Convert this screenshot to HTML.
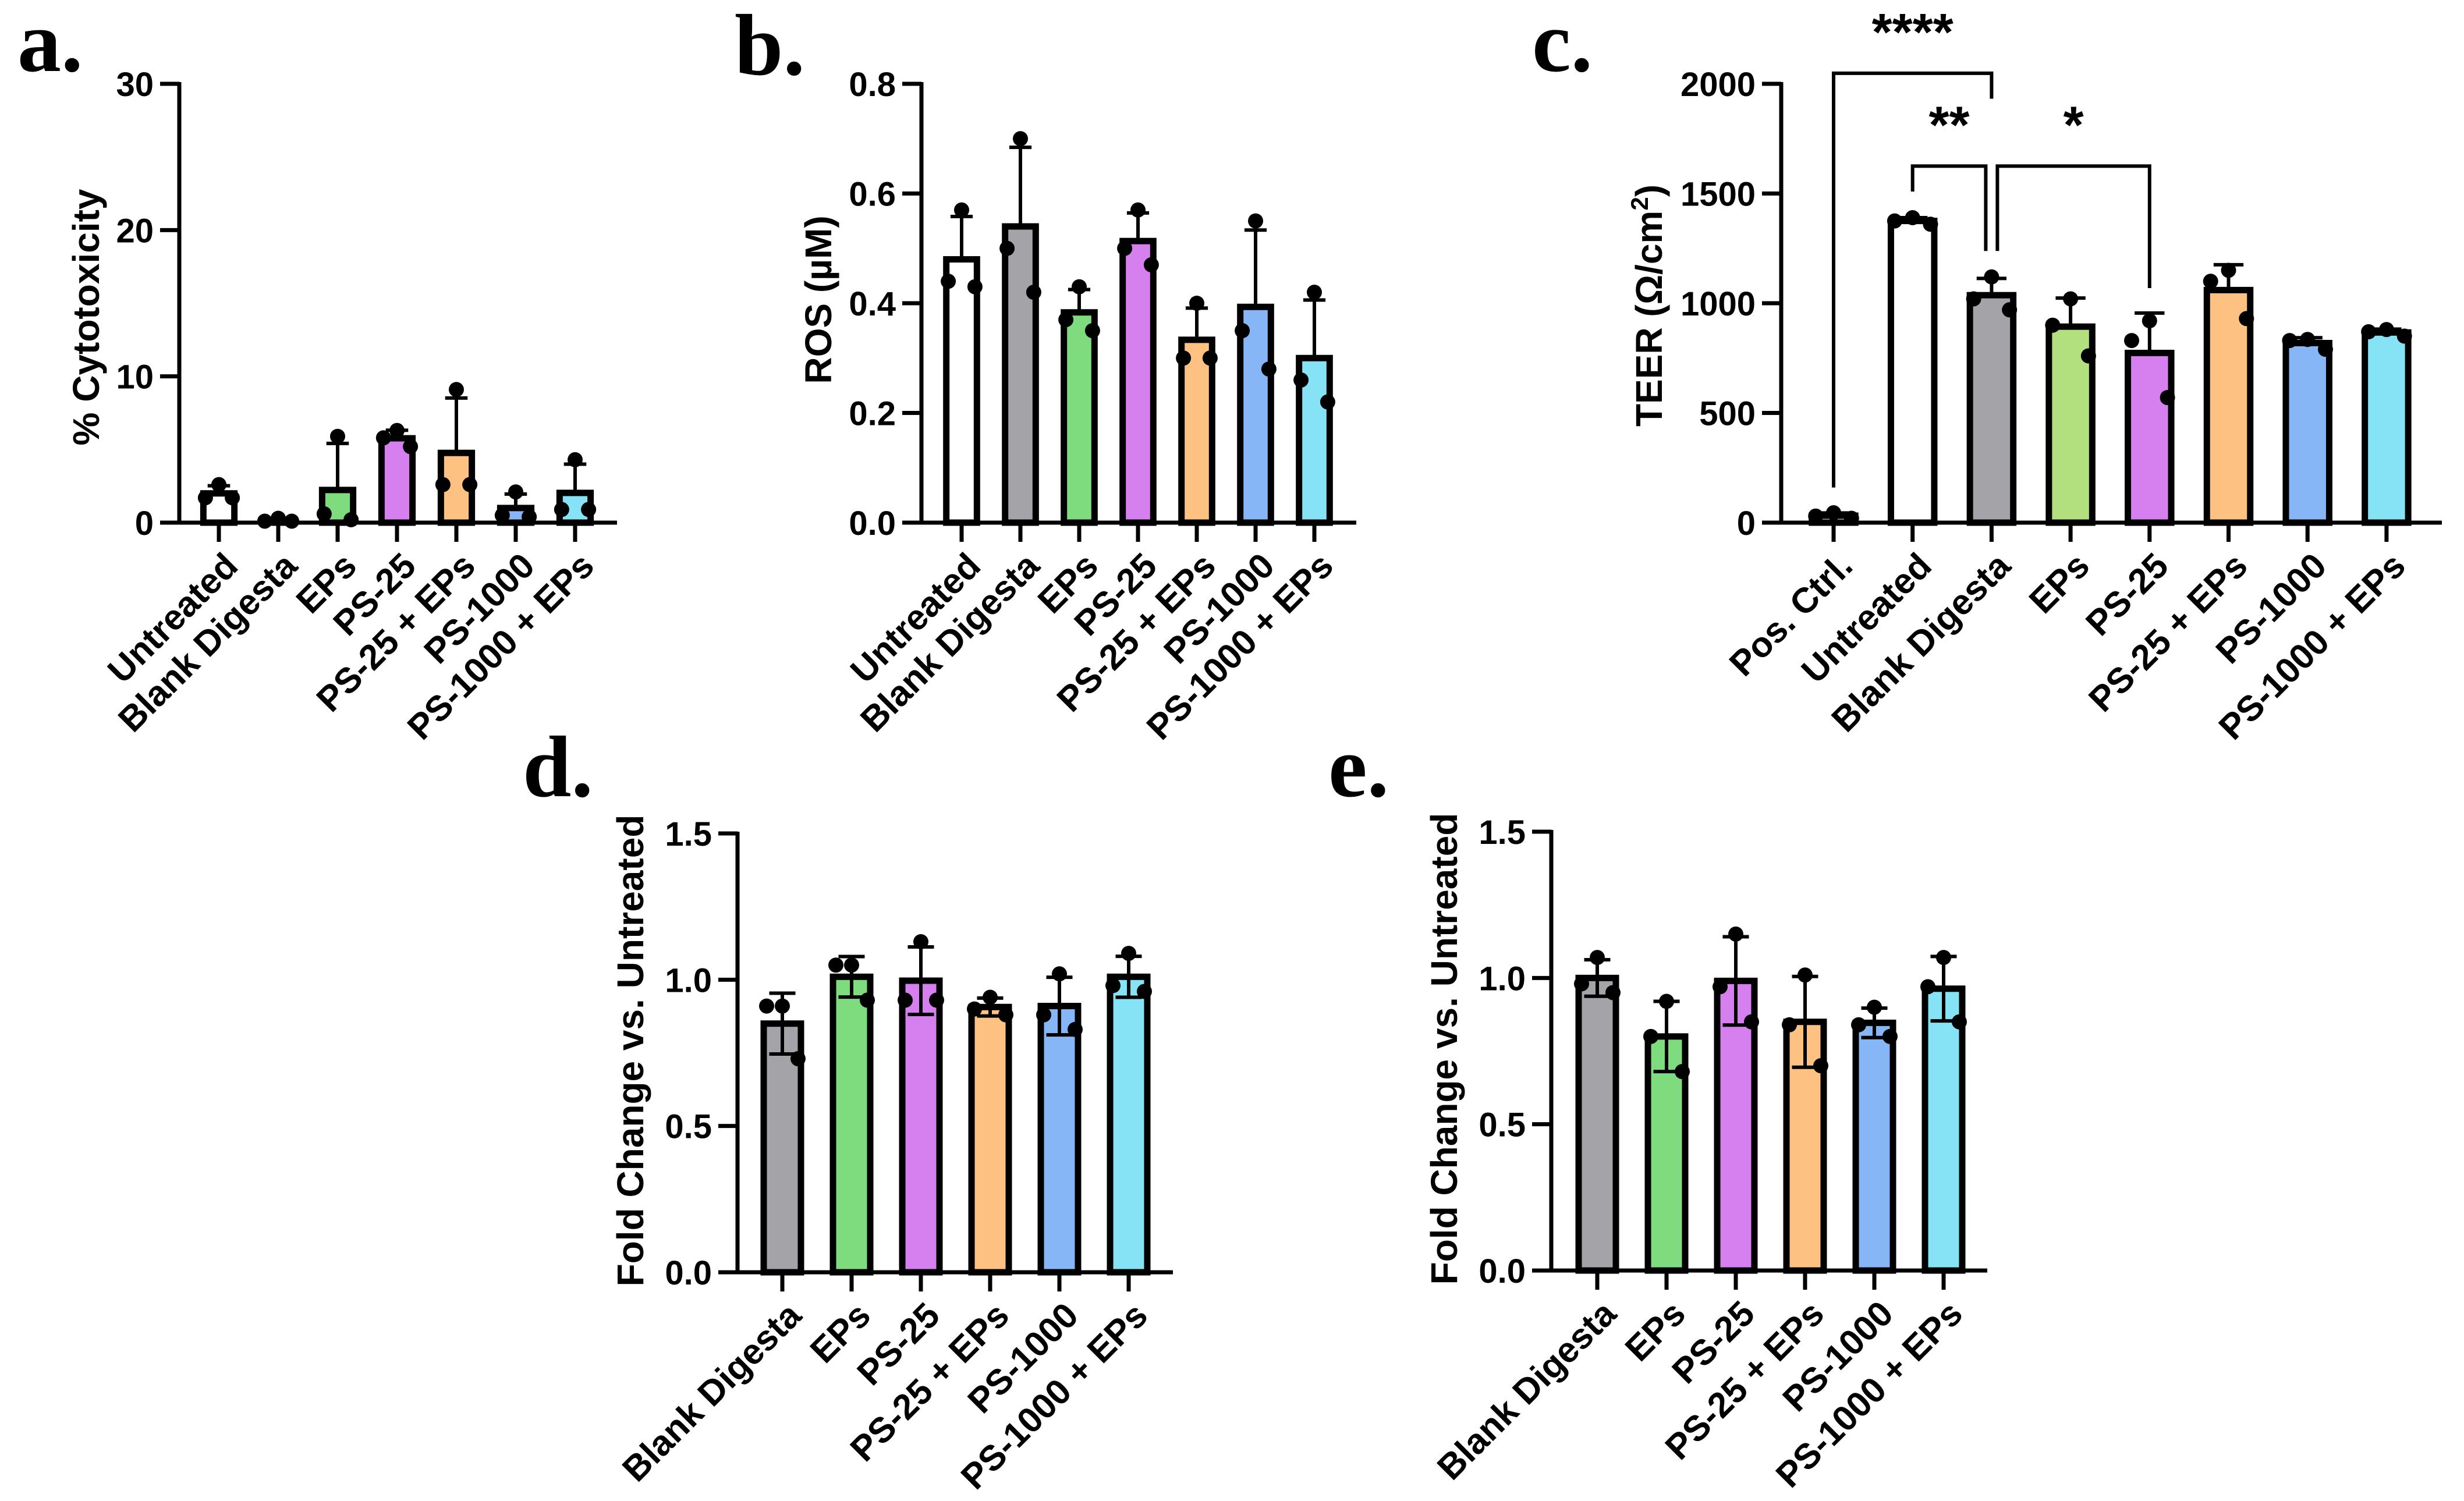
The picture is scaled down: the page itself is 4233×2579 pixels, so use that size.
<!DOCTYPE html>
<html><head><meta charset="utf-8"><style>
html,body{margin:0;padding:0;background:#fff;}
svg{display:block;}
text{font-family:"Liberation Sans",Arial,sans-serif;font-weight:bold;fill:#000;}
.pl{font-family:"Liberation Serif",serif;font-weight:bold;font-size:150px;}
</style></head><body>
<svg id="fig" xmlns="http://www.w3.org/2000/svg" width="4233" height="2579" viewBox="0 0 4233 2579">
<text class="pl" x="30" y="122">a.</text>
<text class="pl" x="1262" y="128">b.</text>
<text class="pl" x="2632" y="122">c.</text>
<text class="pl" x="898" y="1368">d.</text>
<text class="pl" x="2282" y="1368">e.</text>
</svg>
<script>
// ---- data ----
const catsA = ["Untreated","Blank Digesta","EPs","PS-25","PS-25 + EPs","PS-1000","PS-1000 + EPs"];
const ptsA = [[2.6,1.7,1.7],[0.3,0.1,0.1],[5.9,0.2,0.6],[6.3,5.2,5.8],[9.1,2.6,2.6],[2.1,0.4,0.5],[4.3,0.9,0.9]];
const ticksA = [0,10,20,30];
const tickLabelsA = ["0","10","20","30"];

const catsB = ["Untreated","Blank Digesta","EPs","PS-25","PS-25 + EPs","PS-1000","PS-1000 + EPs"];
const ptsB = [[0.57,0.44,0.43],[0.70,0.50,0.42],[0.43,0.37,0.35],[0.57,0.47,0.50],[0.40,0.30,0.30],[0.55,0.35,0.28],[0.42,0.26,0.22]];
const ticksB = [0,0.2,0.4,0.6,0.8];
const tickLabelsB = ["0.0","0.2","0.4","0.6","0.8"];

const catsC = ["Pos. Ctrl.","Untreated","Blank Digesta","EPs","PS-25","PS-25 + EPs","PS-1000","PS-1000 + EPs"];
const ptsC = [[20,45,30],[1360,1390,1375],[1120,970,1020],[1020,900,760],[920,830,570],[1150,1100,930],[790,830,835],[880,850,870]];
const ticksC = [0,500,1000,1500,2000];
const tickLabelsC = ["0","500","1000","1500","2000"];
// significance brackets: [fromIndex, toIndex, barValue, leftDrop, rightDrop, label]
const sigC = [[0,2,2048,160,1932,"****"],[1,2,1625,1509,1238,"**"],[2,4,1625,1238,1069,"*"]];

const catsD = ["Blank Digesta","EPs","PS-25","PS-25 + EPs","PS-1000","PS-1000 + EPs"];
const ptsD = [[0.91,0.91,0.73],[1.05,1.05,0.93],[1.13,0.93,0.93],[0.94,0.90,0.88],[1.02,0.88,0.83],[1.09,0.98,0.96]];
const ticksD = [0,0.5,1.0,1.5];
const tickLabelsD = ["0.0","0.5","1.0","1.5"];

const catsE = ["Blank Digesta","EPs","PS-25","PS-25 + EPs","PS-1000","PS-1000 + EPs"];
const ptsE = [[1.07,0.98,0.95],[0.92,0.80,0.68],[1.15,0.97,0.85],[1.01,0.84,0.70],[0.90,0.84,0.80],[1.07,0.97,0.85]];
const ticksE = [0,0.5,1.0,1.5];
const tickLabelsE = ["0.0","0.5","1.0","1.5"];

const colorMap = {"Pos. Ctrl.":"#ffffff","Untreated":"#ffffff","Blank Digesta":"#a3a3a8","EPs":"#7edc7e","PS-25":"#d580ee","PS-25 + EPs":"#fdc281","PS-1000":"#86b6f5","PS-1000 + EPs":"#86e3f5"};

const NS="http://www.w3.org/2000/svg";
const svg=document.getElementById('fig');
function mk(tag,attrs,parent){const e=document.createElementNS(NS,tag);for(const k in attrs)e.setAttribute(k,attrs[k]);(parent||svg).appendChild(e);return e;}
function mean(a){return a.reduce((s,v)=>s+v,0)/a.length;}
function sd(a){const m=mean(a);return Math.sqrt(a.reduce((s,v)=>s+(v-m)*(v-m),0)/(a.length-1));}

function panel(id,cfg){
  const g=mk('g',{});
  
  
  const ymax=cfg.ticks[cfg.ticks.length-1];
  const Y=v=>cfg.y0-(v/ymax)*(cfg.y0-cfg.yt);
  const X=i=>cfg.first+i*cfg.sp;
  const bw=cfg.sp*0.63;
  const sw=11;
  cfg.cats.forEach((c,i)=>{
    const m=mean(cfg.pts[i]);
    const r=mk('rect',{x:X(i)-bw/2+sw/2,y:Y(m),width:bw-sw,height:Math.max(0,cfg.y0-Y(m)),fill:cfg.colors&&cfg.colors[c]||colorMap[c],stroke:'#000','stroke-width':sw},g);
    
    
  });
  cfg.cats.forEach((c,i)=>{
    const m=mean(cfg.pts[i]),s=sd(cfg.pts[i]);
    const eg=mk('g',{stroke:'#000','stroke-width':6,fill:'none'},g);
    
    
    const cw=bw*0.3;
    const lo=cfg.both?Math.max(0,m-s):m;
    mk('line',{x1:X(i),x2:X(i),y1:Y(m+s),y2:Y(lo)},eg);
    mk('line',{x1:X(i)-cw,x2:X(i)+cw,y1:Y(m+s),y2:Y(m+s)},eg);
    if(cfg.both&&m-s>0) mk('line',{x1:X(i)-cw,x2:X(i)+cw,y1:Y(m-s),y2:Y(m-s)},eg);
  });
  cfg.cats.forEach((c,i)=>{
    const p=cfg.pts[i].slice();
    const order=p.map((v,k)=>k).sort((a,b)=>p[b]-p[a]);
    const offs=[0,-0.36,0.36];
    order.forEach((k,j)=>{
      const d=mk('circle',{cx:X(i)+offs[j]*bw,cy:Y(p[k]),r:13,fill:'#000'},g);
      
      
    });
  });
  const ax=mk('g',{stroke:'#000','stroke-width':7,fill:'none'},g);
  
  
  mk('line',{x1:cfg.ax,x2:cfg.ax,y1:cfg.yt-3,y2:cfg.y0+3},ax);
  mk('line',{x1:cfg.ax-33,x2:cfg.end,y1:cfg.y0,y2:cfg.y0},ax);
  cfg.ticks.forEach((t,k)=>{
    mk('line',{x1:cfg.ax-33,x2:cfg.ax,y1:Y(t),y2:Y(t)},ax);
    const tl=mk('text',{x:cfg.ax-44,y:Y(t)+21,'text-anchor':'end','font-size':58},g);
    tl.textContent=cfg.tickLabels[k];
    
    
  });
  cfg.cats.forEach((c,i)=>{
    mk('line',{x1:X(i),x2:X(i),y1:cfg.y0,y2:cfg.y0+33},ax);
    const px=X(i)+36,py=cfg.y0+78;
    const t=mk('text',{x:px,y:py,'text-anchor':'end','font-size':61,transform:`rotate(-45 ${px} ${py})`},g);
    t.textContent=c;
    
    
  });
  const ty=mk('text',{x:cfg.tx,y:cfg.tyc,'text-anchor':'middle','font-size':64,transform:`rotate(-90 ${cfg.tx} ${cfg.tyc})`},g);
  ty.innerHTML=cfg.title;
  
  
  if(cfg.sig){
    cfg.sig.forEach((s,k)=>{
      const sg=mk('g',{stroke:'#000','stroke-width':6,fill:'none'},g);
      
      
      const xl=X(s[0])+(k===2?10:0),xr=X(s[1])-(k===1?10:0);
      mk('polyline',{points:`${xl},${Y(s[3])} ${xl},${Y(s[2])} ${xr},${Y(s[2])} ${xr},${Y(s[4])}`},sg);
      const st=mk('text',{x:(xl+xr)/2,y:Y(s[2])-40,'text-anchor':'middle','font-size':90},g);
      st.textContent=s[5];
      
      
    });
  }
}

panel('a',{cats:catsA,pts:ptsA,ticks:ticksA,tickLabels:tickLabelsA,ax:308,y0:898,yt:144,first:376,sp:102,end:1060,tx:170,tyc:545,title:'% Cytotoxicity'});
panel('b',{cats:catsB,pts:ptsB,ticks:ticksB,tickLabels:tickLabelsB,ax:1583,y0:898,yt:144,first:1652,sp:101,end:2330,tx:1428,tyc:515,title:'ROS (µM)'});
panel('c',{cats:catsC,pts:ptsC,ticks:ticksC,tickLabels:tickLabelsC,ax:3060,y0:898,yt:144,first:3150,sp:135.7,end:4195,tx:2855,tyc:525,title:'TEER (Ω/cm<tspan dy="-24" font-size="42">2</tspan><tspan dy="24">)</tspan>',sig:sigC,colors:Object.assign({},colorMap,{"EPs":"#b2e07e"})});
panel('d',{cats:catsD,pts:ptsD,ticks:ticksD,tickLabels:tickLabelsD,ax:1267,y0:2186,yt:1432,first:1344,sp:119,end:2015,tx:1105,tyc:1805,title:'Fold Change vs. Untreated',both:true});
panel('e',{cats:catsE,pts:ptsE,ticks:ticksE,tickLabels:tickLabelsE,ax:2665,y0:2183,yt:1429,first:2744,sp:119,end:3414,tx:2503,tyc:1802,title:'Fold Change vs. Untreated',both:true});
</script>
</body></html>
